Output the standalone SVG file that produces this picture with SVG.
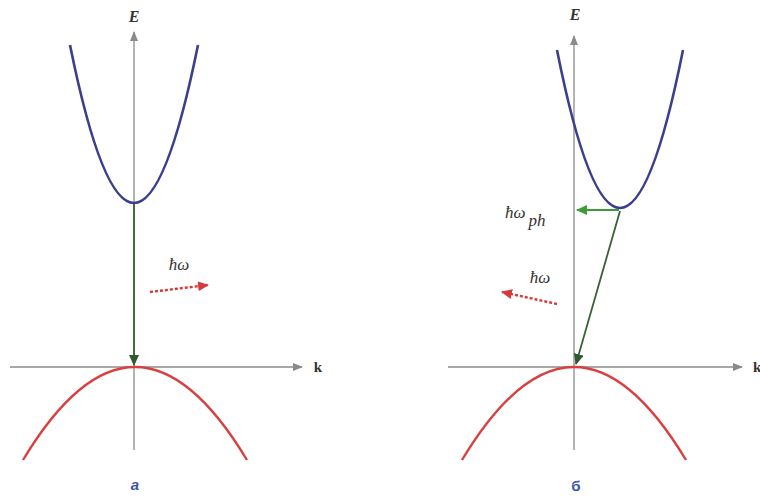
<svg xmlns="http://www.w3.org/2000/svg" width="760" height="499" viewBox="0 0 760 499">
<style>
.axis{stroke:#8a8a8a;stroke-width:1.3;fill:none}
.cb{stroke:#3b3f8c;stroke-width:2.6;fill:none}
.vb{stroke:#d8403f;stroke-width:2.4;fill:none}
.tr{stroke:#3d5f38;stroke-width:1.8;fill:none}
.ph{stroke:#3f9a3a;stroke-width:1.8;fill:none}
.lt{stroke:#d63a3a;stroke-width:2.4;fill:none;stroke-dasharray:3 2}
.lab{font-family:"Liberation Serif",serif;font-style:italic;fill:#333}
.cap{font-family:"Liberation Sans",sans-serif;font-weight:bold;fill:#3d55a8;font-size:15px;text-anchor:middle}
</style>
<defs>
<marker id="ax" markerWidth="10" markerHeight="8" refX="9" refY="4" orient="auto" markerUnits="userSpaceOnUse"><path d="M0,0 L10,4 L0,8 z" fill="#8a8a8a"/></marker>
<marker id="ag" markerWidth="11" markerHeight="10" refX="10" refY="5" orient="auto" markerUnits="userSpaceOnUse"><path d="M0,0 L11,5 L0,10 z" fill="#2f5a2f"/></marker>
<marker id="agl" markerWidth="11" markerHeight="10" refX="10" refY="5" orient="auto" markerUnits="userSpaceOnUse"><path d="M0,0 L11,5 L0,10 z" fill="#3f9a3a"/></marker>
<marker id="ar" markerWidth="11" markerHeight="10" refX="10" refY="5" orient="auto" markerUnits="userSpaceOnUse"><path d="M0,0 L11,5 L0,10 z" fill="#d63a3a"/></marker>
</defs>
<rect width="760" height="499" fill="#ffffff"/>

<g id="panel-a">
<g id="axes-a">
<line class="axis" x1="134" y1="450" x2="134" y2="32" marker-end="url(#ax)"/>
<line class="axis" x1="10" y1="367" x2="302" y2="367" marker-end="url(#ax)"/>
<text class="lab" x="134" y="22" font-size="16" font-weight="bold" text-anchor="middle">E</text>
<text x="318" y="372" font-family="Liberation Serif,serif" font-weight="bold" font-size="15" fill="#333" text-anchor="middle">k</text>
</g>
<g id="cband-a"><path class="cb" d="M70,45 Q134,361 198,45"/></g>
<g id="vband-a"><path class="vb" d="M23,460 Q135,274 247,460"/></g>
<g id="label-hw-a"><text class="lab" x="179" y="270" font-size="17" text-anchor="middle">ħω</text></g>
<text class="cap" x="135" y="490" font-style="italic">а</text>
</g>

<g id="panel-b">
<g id="axes-b">
<line class="axis" x1="574" y1="450" x2="574" y2="36" marker-end="url(#ax)"/>
<line class="axis" x1="448" y1="367" x2="742" y2="367" marker-end="url(#ax)"/>
<text class="lab" x="575" y="20" font-size="16" font-weight="bold" text-anchor="middle">E</text>
<text x="753" y="372" font-family="Liberation Serif,serif" font-weight="bold" font-size="15" fill="#333">k</text>
</g>
<g id="cband-b"><path class="cb" d="M557,50 Q620,366 683,50"/></g>
<g id="vband-b"><path class="vb" d="M462,460 Q574,274 686,460"/></g>
<g id="label-hwph"><text class="lab" x="505" y="218" font-size="17">ħω<tspan dx="3" dy="8">ph</tspan></text></g>
<g id="label-hw-b"><text class="lab" x="540" y="283" font-size="17" text-anchor="middle">ħω</text></g>
<text class="cap" x="576" y="491">б</text>
</g>

<g id="connectors">
<line class="tr" x1="134" y1="204" x2="134" y2="365" marker-end="url(#ag)"/>
<line class="lt" x1="150" y1="292" x2="208" y2="285" marker-end="url(#ar)"/>
<line class="ph" x1="619" y1="210" x2="577" y2="210" marker-end="url(#agl)"/>
<line class="tr" x1="620" y1="211" x2="576" y2="364" marker-end="url(#ag)"/>
<line class="lt" x1="557" y1="304" x2="502" y2="292" marker-end="url(#ar)"/>
</g>
</svg>
